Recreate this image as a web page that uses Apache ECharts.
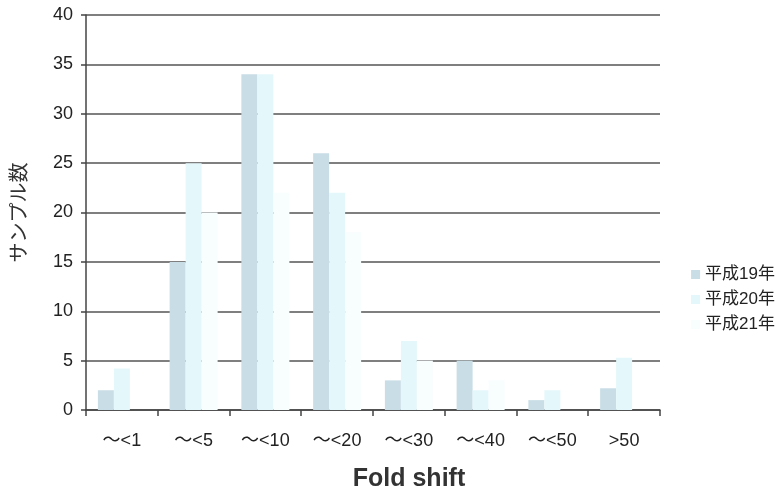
<!DOCTYPE html>
<html><head><meta charset="utf-8">
<script src="https://cdn.jsdelivr.net/npm/echarts@6/dist/echarts.min.js"></script>
<style>html,body{margin:0;padding:0;background:#fff}#c{width:782px;height:498px}</style>
</head><body><div id="c"></div>
<script>
const categories = ['～<1','～<5','～<10','～<20','～<30','～<40','～<50','>50'];
const seriesNames = ['平成19年','平成20年','平成21年'];
const h19 = [2, 15, 34, 26, 3, 5, 1, 2.2];
const h20 = [4.2, 25, 34, 22, 7, 2, 2, 5.3];
const h21 = [0, 20, 22, 18, 5, 3, 0, 0];
const yTicks = [0, 5, 10, 15, 20, 25, 30, 35, 40];
const colors = ['#c8dde6', '#e4f7fb', '#f8fdfe'];
const font = '"Liberation Sans", Arial, "Noto Sans CJK JP", sans-serif';
const chart = echarts.init(document.getElementById('c'));
chart.setOption({
  animation: false,
  backgroundColor: '#fff',
  grid: {left: 85, right: 122, top: 15, bottom: 88, containLabel: false},
  legend: {
    orient: 'vertical', right: 2, top: 261, itemWidth: 9, itemHeight: 9, itemGap: 8,
    icon: 'rect',
    textStyle: {fontFamily: font, fontSize: 17, color: '#222'},
    data: seriesNames
  },
  xAxis: {
    type: 'category', data: categories,
    axisLine: {lineStyle: {color: '#444', width: 1.5}},
    axisTick: {show: true, alignWithLabel: false, length: 6, lineStyle: {color: '#444', width: 1.5}},
    axisLabel: {fontFamily: font, fontSize: 18, color: '#222', margin: 22},
    name: 'Fold shift', nameLocation: 'middle', nameGap: 57,
    nameTextStyle: {fontFamily: font, fontSize: 25, fontWeight: 'bold', color: '#333', padding: [0,0,0,72]}
  },
  yAxis: {
    type: 'value', min: 0, max: 40, interval: 5,
    axisLine: {show: true, lineStyle: {color: '#444', width: 1.5}},
    axisTick: {show: true, length: 5, lineStyle: {color: '#444', width: 1.5}},
    axisLabel: {fontFamily: font, fontSize: 18, color: '#222', margin: 13,
      formatter: v => yTicks.includes(v) ? String(v) : ''},
    splitLine: {lineStyle: {color: '#555', width: 1.5}},
    name: 'サンプル数', nameLocation: 'middle', nameGap: 58, nameRotate: 90,
    nameTextStyle: {fontFamily: '"Noto Sans CJK JP", sans-serif', fontSize: 20, color: '#333'}
  },
  series: [
    {name: seriesNames[0], type: 'bar', data: h19, barWidth: 16, barGap: '0%', itemStyle: {color: colors[0]}},
    {name: seriesNames[1], type: 'bar', data: h20, barWidth: 16, barGap: '0%', itemStyle: {color: colors[1]}},
    {name: seriesNames[2], type: 'bar', data: h21, barWidth: 16, barGap: '0%', itemStyle: {color: colors[2]}}
  ]
});
</script></body></html>
